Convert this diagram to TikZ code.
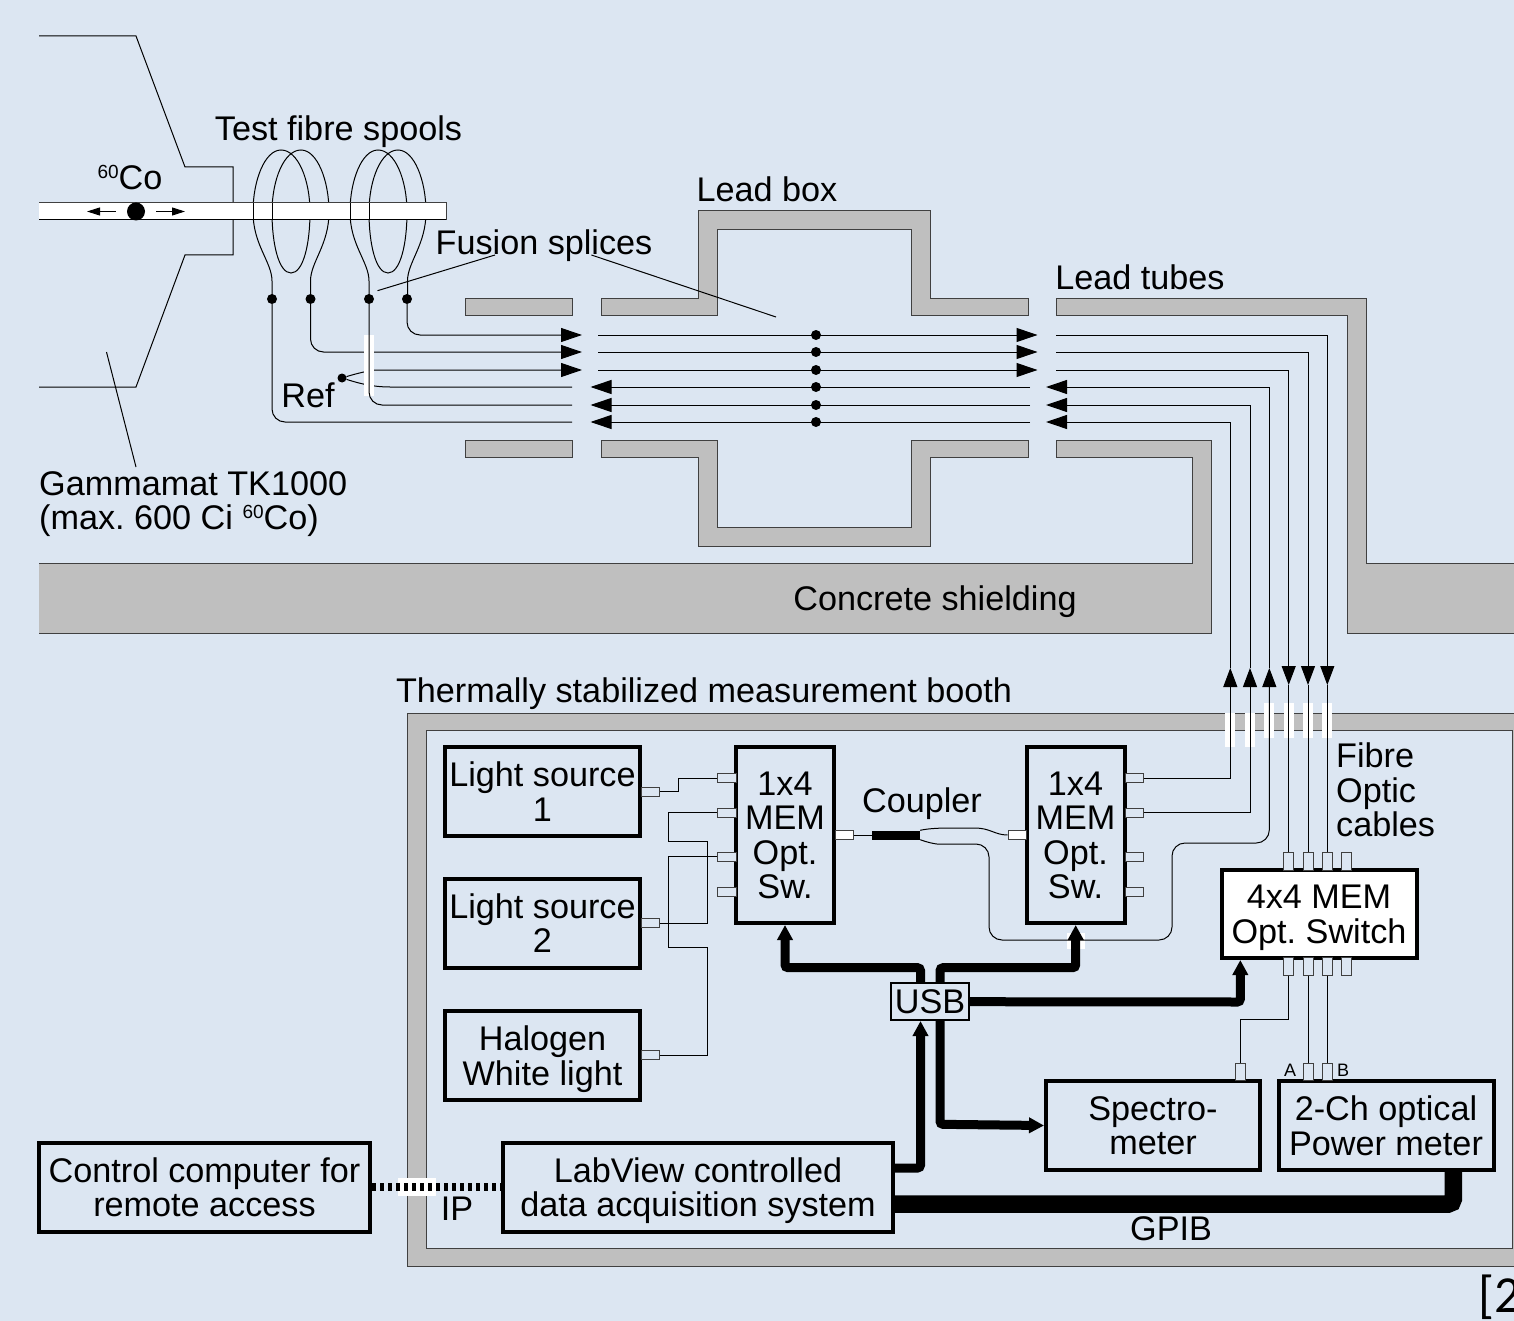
\documentclass[tikz,border=0pt]{standalone}
\usepackage{fontspec}
\setmainfont{Liberation Sans}
\newfontfamily\refcite{Carlito}
\usetikzlibrary{arrows.meta,positioning}
\definecolor{panel}{HTML}{DCE6F2}
\definecolor{shieldgrey}{HTML}{BFBFBF}
\definecolor{edgegrey}{HTML}{404040}
\newcommand{\cobalt}{\raisebox{11pt}{\fontsize{19}{19}\selectfont 60}Co}
\frenchspacing
\begin{document}
\begin{tikzpicture}[
    x=1pt, y=-1pt,
    every node/.style={font=\fontsize{34.2}{34.5}\selectfont},
    lbl/.style={inner sep=0pt, align=center},
    unit/.style={draw, line width=4pt, align=center, inner sep=0pt, fill=panel, text depth=0pt},
    shield/.style={fill=shieldgrey, draw=edgegrey, line width=1pt},
    fibre/.style={draw=black, line width=1pt, rounded corners=13pt},
    wire/.style={draw=black, line width=1pt},
    fwd/.style={fibre, -{Triangle[length=21pt,width=14pt]}},
    splice/.style={circle, fill=black, inner sep=0pt, minimum size=10pt},
    tap/.style={draw=edgegrey, line width=1pt, fill=panel, inner sep=0pt, minimum width=18pt, minimum height=9pt},
    vtap/.style={tap, minimum width=10pt, minimum height=17.5pt},
    whitetap/.style={tap, fill=white},
    usbflow/.style={line width=9pt, rounded corners=3pt, -{Triangle[length=15pt,width=15pt]}},
    gpib/.style={line width=17.5pt, rounded corners=5pt},
    ipline/.style={line width=8pt, dash pattern=on 4pt off 4pt},
    leader/.style={line width=1pt, black}
]
\path[use as bounding box, fill=panel] (0,0) rectangle (1514,1321);

% gammamat housing
\draw[wire] (39,36) -- (136,36) -- (185,167) -- (233,167) -- (233,255) -- (185,255) -- (136,387) -- (39,387);
\draw[leader] (106.5,352) -- (136,467);

% spools, front strands come back after the tube
\foreach \dx in {0,97}{
  \draw[wire] (272+\dx,299) -- (272+\dx,281) .. controls (272+\dx,262) and (253+\dx,245) .. (253+\dx,212)
    .. controls (253+\dx,180) and (265+\dx,150) .. (281+\dx,150)
    .. controls (298+\dx,150) and (310+\dx,180) .. (310+\dx,212)
    .. controls (310+\dx,245) and (303+\dx,273) .. (291+\dx,273)
    .. controls (279+\dx,273) and (272+\dx,245) .. (272+\dx,212)
    .. controls (272+\dx,180) and (284+\dx,150) .. (301+\dx,150)
    .. controls (317+\dx,150) and (329+\dx,180) .. (329+\dx,212)
    .. controls (329+\dx,245) and (310.5+\dx,262) .. (310.5+\dx,281) -- (310.5+\dx,299);
}
\fill[white] (39,203) rectangle (446,220);
\draw[line width=1pt, edgegrey] (39,203) -- (446,203) -- (446,220);
\draw[wire] (446,220) -- (39,220);
\foreach \xa in {253,272,350,369}{
  \draw[wire] (\xa,203) -- (\xa,220);
}
\node[circle, fill=black, inner sep=0pt, minimum size=18pt] (source) at (136,211.5) {};
\coordinate (leftend) at (87,211.5);
\coordinate (rightend) at (185,211.5);
\draw[line width=1pt, -{Triangle[length=13pt,width=8pt]}] ([xshift=-11pt]source.west) -- (leftend);
\draw[line width=1pt, -{Triangle[length=13pt,width=8pt]}] ([xshift=11pt]source.east) -- (rightend);

% lead box and lead tubes
\draw[shield] (465,299) -- (572,299) -- (572,316) -- (465,316) -- cycle;
\draw[shield] (465,440) -- (572,440) -- (572,457) -- (465,457) -- cycle;
\draw[shield] (601,299) -- (698,299) -- (698,211) -- (930,211) -- (930,299) -- (1028,299) -- (1028,316) -- (911,316) -- (911,230) -- (717,230) -- (717,316) -- (601,316) -- cycle;
\draw[shield] (601,440) -- (717,440) -- (717,527) -- (911,527) -- (911,440) -- (1028,440) -- (1028,457) -- (930,457) -- (930,546) -- (698,546) -- (698,457) -- (601,457) -- cycle;
\draw[shield] (1056,299) -- (1366,299) -- (1366,563) -- (1520,563) -- (1520,633) -- (1347,633) -- (1347,316) -- (1056,316) -- cycle;
\draw[shield] (39,563) -- (1192,563) -- (1192,457) -- (1056,457) -- (1056,440) -- (1211,440) -- (1211,633) -- (39,633);

% measurement booth
\draw[shield, even odd rule] (1520,713) -- (407,713) -- (407,1266) -- (1520,1266) -- cycle (426.5,730) rectangle (1512,1248);

% splices
\foreach \n/\xa in {a/272,b/310.5,c/369,d/407}{
  \node[splice] (sp\n) at (\xa,299) {};
}
\node[splice, minimum size=9pt] (refsp) at (342,378) {};
\foreach \n/\ya in {1/335,2/352,3/370,4/387,5/405,6/422}{
  \node[splice] (mid\n) at (816,\ya) {};
  \coordinate (ga\n) at (582,\ya);
  \coordinate (gb\n) at (598,\ya);
  \coordinate (gc\n) at (1037.5,\ya);
  \coordinate (gd\n) at (1056,\ya);
}
\foreach \n/\ya in {4/387,5/405,6/422}{
  \coordinate (ha\n) at (572,\ya);
  \coordinate (hb\n) at (590.5,\ya);
  \coordinate (hc\n) at (1030,\ya);
  \coordinate (hd\n) at (1046,\ya);
}

% fibres to and through the box
\draw[fwd] (spd) -- (407,335) -- (ga1);
\draw[fwd] (spb) -- (310.5,352) -- (ga2);
\draw[fibre] (spa) -- (272,422) -- (ha6);
\draw[fwd] (refsp) .. controls (355,374) and (370,370) .. (390,370) -- (ga3);
\draw[wire] (refsp) .. controls (355,382) and (370,387) .. (390,387) -- (ha4);
\fill[white] (364,335) rectangle (373.6,395.7);
\draw[fibre] (spc) -- (369,405) -- (ha5);
\foreach \n in {1,2,3}{
  \draw[fwd] (gb\n) -- (gc\n);
}
\foreach \n in {4,5,6}{
  \draw[fwd] (hc\n) -- (hb\n);
}

% switches and sources
\node[unit, minimum width=195pt, minimum height=89pt] (lsone) at (542.5,791.5) {Light source\\1};
\node[unit, minimum width=195pt, minimum height=89pt] (lstwo) at (542.5,923) {Light source\\2};
\node[unit, minimum width=195pt, minimum height=89pt] (halogen) at (542.5,1055.5) {Halogen\\White light};
\node[unit, minimum width=98pt, minimum height=176pt] (memone) at (785,835) {1x4\\MEM\\Opt.\\Sw.};
\node[unit, minimum width=98pt, minimum height=176pt] (memtwo) at (1075.5,835) {1x4\\MEM\\Opt.\\Sw.};
\node[unit, fill=white, minimum width=195pt, minimum height=88pt] (optsw) at (1319,914) {4x4 MEM\\Opt. Switch};
\node[unit, minimum width=214pt, minimum height=89pt] (spectro) at (1153,1125.5) {Spectro-\\meter};
\node[unit, minimum width=215pt, minimum height=89pt] (power) at (1386,1125.5) {2-Ch optical\\Power meter};
\node[unit, minimum width=331pt, minimum height=89pt] (ctrl) at (204.5,1187) {Control computer for\\remote access};
\node[unit, minimum width=390pt, minimum height=89pt] (labview) at (698,1187) {LabView controlled\\data acquisition system};

% taps
\foreach \n/\ya in {1/778,2/812.7,3/856.7,4/891.7}{
  \node[tap, minimum width=19pt] (ma\n) at (726.5,\ya) {};
  \node[tap] (mb\n) at (1134.5,\ya) {};
}
\node[tap] (tla) at (650.5,791.5) {};
\node[tap] (tlb) at (650.5,923) {};
\node[tap] (tlc) at (650.5,1055) {};
\node[whitetap] (mone) at (844,835) {};
\node[whitetap] (mtwo) at (1017,835) {};
\foreach \n/\xa in {1/1288.7,2/1308,3/1327.3,4/1346.7}{
  \node[vtap] (st\n) at (\xa,861.3) {};
  \node[vtap] (sb\n) at (\xa,966.7) {};
}
\node[vtap] (tspec) at (1240.3,1072) {};
\node[vtap] (tpa) at (1308,1072) {};
\node[vtap] (tpb) at (1327.3,1072) {};

% source fibres
\draw[wire] (tla.east) -- (678.3,791.5) -- (678.3,778) -- (ma1.west);
\draw[wire] (tlb.east) -- (707.3,923) -- (707.3,841.7) -- (668.7,841.7) -- (668.7,812.7) -- (ma2.west);
\draw[wire] (tlc.east) -- (707.3,1055) -- (707.3,947.3) -- (668.7,947.3) -- (668.7,856.7) -- (ma3.west);

% coupler
\node[fill=black, inner sep=0pt, minimum width=48pt, minimum height=9pt] (coupler) at (896,835) {};
\draw[wire] (mone.east) -- (coupler.west);
\draw[wire] (coupler.north east) .. controls (926,829) and (935,828) .. (950,828) -- (975,828) .. controls (990,828) and (995,835) .. (mtwo.west);

% wall crossings
\foreach \xa in {1230.3,1250}{
  \fill[white] (\xa-5,713) rectangle (\xa+5,746.7);
}
\foreach \xa in {1269.3,1288.7,1308,1327.3}{
  \fill[white] (\xa-5,703.3) rectangle (\xa+5,738.3);
}
\fill[white] (1067,933) rectangle (1085,949);

% fibres to the booth
\foreach \n/\xa/\ya in {1/1327.3/335,2/1308/352,3/1288.7/370}{
  \draw[wire] (gd\n) -- (\xa,\ya) -- (\xa,646);
  \coordinate (dn\n) at (\xa,685);
  \draw[wire, -{Triangle[length=19pt,width=14pt]}] (\xa,646) -- (dn\n);
}
\draw[wire] (dn1) -- (st3.north);
\draw[wire] (dn2) -- (st2.north);
\draw[wire] (dn3) -- (st1.north);
\foreach \n/\xa/\ya in {4/1269.3/387,5/1250/405,6/1230.3/422}{
  \coordinate (up\n) at (\xa,668);
  \draw[wire, -{Triangle[length=21pt,width=14pt]}] (\xa,\ya) -- (hd\n);
  \draw[wire] (\xa,\ya) -- (up\n);
}
\draw[wire, -{Triangle[length=19pt,width=14pt]}] (mb1.east) -- (1230.3,778) -- (up6);
\draw[wire, -{Triangle[length=19pt,width=14pt]}] (mb2.east) -- (1250,812.7) -- (up5);
\draw[fibre, -{Triangle[length=19pt,width=14pt]}] (coupler.south east) .. controls (926,842) and (935,844) .. (950,844) -- (989,844) -- (989,940) -- (1172,940) -- (1172,843) -- (1269.3,843) -- (up4);

% spectrometer and meter fibres
\draw[wire] (sb1.south) -- (1288.7,1019.3) -- (1240.3,1019.3) -- (tspec.north);
\draw[wire] (sb2.south) -- (tpa.north);
\draw[wire] (sb3.south) -- (tpb.north);

% control lines
\node[draw=black, line width=1.5pt, fill=panel, inner sep=0pt, minimum width=78pt, minimum height=37pt] (usb) at (930,1001.7) {USB\hspace{6pt}};
\coordinate (memonein) at (785,925);
\coordinate (memtwoin) at (1075.7,925);
\coordinate (swin) at (1240.3,960);
\draw[usbflow] (920.5,983.2) -- (920.5,967.7) -- (785,967.7) -- (memonein);
\draw[usbflow] (940,983.2) -- (940,967.7) -- (1075.7,967.7) -- (memtwoin);
\draw[usbflow] (usb.east) -- (1240.3,1002) -- (swin);
\draw[usbflow] (940,1020.2) -- (940,1124.3) -- (spectro.west);
\draw[usbflow] (labview.east |- 0,1168) -- (920.5,1168) -- (920.5,1021);
\draw[gpib] (labview.east |- 0,1204) -- (1453.3,1204) -- (1453.3,1170);
\fill[white] (398,1178) rectangle (436,1195.6);
\draw[ipline] (ctrl.east) -- (labview.west);

% labels
\node[lbl] (spoolstxt) at (338.5,132) {Test fibre spools};
\node[lbl] (cotxt) at (130,178) {\cobalt};
\node[lbl] (boxtxt) at (767,189.5) {Lead box};
\node[lbl] (splicetxt) at (544,246) {Fusion splices};
\coordinate (spla) at (495,255);
\coordinate (splb) at (591.4,255);
\draw[leader] (spla) -- (377.5,290.7);
\draw[leader] (splb) -- (776,317);
\node[lbl] (tubetxt) at (1140,277) {Lead tubes};
\node[lbl] (reftxt) at (308,395) {Ref};
\node[lbl, align=left, anchor=west] (gammatxt) at (39,504) {Gammamat TK1000\\(max. 600 Ci \cobalt)};
\node[lbl] (concretetxt) at (935,602) {Concrete shielding};
\node[lbl] (boothtxt) at (704,694) {Thermally stabilized measurement booth};
\node[lbl] (couplertxt) at (922,804) {Coupler};
\node[lbl, align=left, anchor=west] (cabletxt) at (1336,790) {Fibre\\Optic\\cables};
\node[lbl] (iptxt) at (457,1209) {IP};
\node[lbl] (gpibtxt) at (1171,1229) {GPIB};
\node[lbl, font=\fontsize{18}{18}\selectfont] (atxt) at (1290,1070) {A};
\node[lbl, font=\fontsize{18}{18}\selectfont] (btxt) at (1343,1070) {B};
\node[lbl, anchor=west, font=\refcite\fontsize{52}{52}\selectfont] (citetxt) at (1478,1297) {[2};
\end{tikzpicture}
\end{document}
